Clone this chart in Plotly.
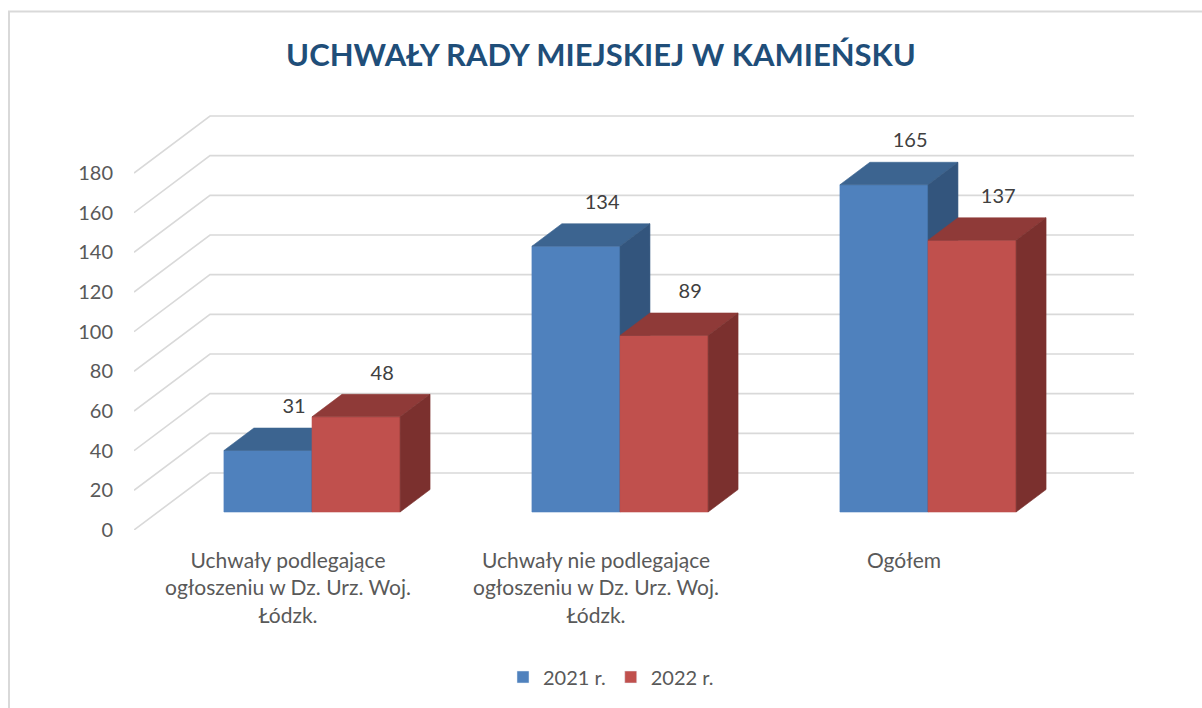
import plotly.graph_objects as go

# ---------------- data ----------------
categories = [
    "Uchwały podlegające<br>ogłoszeniu w Dz. Urz. Woj.<br>Łódzk.",
    "Uchwały nie podlegające<br>ogłoszeniu w Dz. Urz. Woj.<br>Łódzk.",
    "Ogółem",
]
series_names = ["2021 r.", "2022 r."]
values_2021 = [31, 134, 165]
values_2022 = [48, 89, 137]
y_ticks = [0, 20, 40, 60, 80, 100, 120, 140, 160, 180]
title_text = "UCHWAŁY RADY MIEJSKIEJ W KAMIEŃSKU"

# ---------------- styling / geometry ----------------
W, H = 1202, 708
L, R, T, B = 134, 1140, 100, 530          # plot area in pixels
PX_PER_CAT = 308.0
PX_PER_UNIT = 357.0 / 180.0
X0 = -0.5
X1 = X0 + (R - L) / PX_PER_CAT
Y1 = (B - T) / PX_PER_UNIT
DX = 76.0 / PX_PER_CAT                      # depth of the 3D box (x units)
DY = 57.0 / PX_PER_UNIT                     # depth of the 3D box (value units)
D_FRONT, D_BACK = 0.316, 0.71               # bar depth slice
BAR_W = 0.286

front_cols = ["#4F81BD", "#C0504D"]
top_cols = ["#3C6490", "#8F3A38"]
side_cols = ["#33557D", "#7B302E"]
grid_col = "#D9D9D9"
txt_col = "#595959"
FONT = "Lato"


def P(x, v, d):
    return x + d * DX, v + d * DY


fig = go.Figure()

# ---- back wall gridlines & left-wall diagonals ----
gx, gy = [], []
for v in y_ticks:
    a = P(X0, v, 0)
    b = P(X0, v, 1)
    c = P(X0 + len(categories), v, 1)
    gx += [a[0], b[0], c[0], None]
    gy += [a[1], b[1], c[1], None]
fig.add_trace(go.Scatter(x=gx, y=gy, mode="lines", line=dict(color=grid_col, width=1.6),
                         hoverinfo="skip", showlegend=False))


def poly(pts, color):
    xs = [p[0] for p in pts] + [pts[0][0]]
    ys = [p[1] for p in pts] + [pts[0][1]]
    fig.add_trace(go.Scatter(x=xs, y=ys, mode="lines", fill="toself", fillcolor=color,
                             line=dict(color=color, width=0.6), hoverinfo="skip",
                             showlegend=False))


series_vals = [values_2021, values_2022]
for i in range(len(categories)):
    for s, vals in enumerate(series_vals):
        v = vals[i]
        x0 = i - BAR_W + s * BAR_W
        x1 = x0 + BAR_W
        front = [P(x0, 0, D_FRONT), P(x1, 0, D_FRONT), P(x1, v, D_FRONT), P(x0, v, D_FRONT)]
        top = [P(x0, v, D_FRONT), P(x1, v, D_FRONT), P(x1, v, D_BACK), P(x0, v, D_BACK)]
        side = [P(x1, 0, D_FRONT), P(x1, 0, D_BACK), P(x1, v, D_BACK), P(x1, v, D_FRONT)]
        poly(front, front_cols[s])
        poly(top, top_cols[s])
        poly(side, side_cols[s])

# ---- data labels ----
for s, vals in enumerate(series_vals):
    lx, ly = [], []
    for i, v in enumerate(vals):
        cx = i - BAR_W / 2 + s * BAR_W
        p = P(cx, v, 0.66)
        lx.append(p[0])
        ly.append(v + D_BACK * DY + 10)
    fig.add_trace(go.Scatter(x=lx, y=ly, mode="text", text=[str(v) for v in vals],
                             textposition="middle center",
                             textfont=dict(family=FONT, size=20, color="#404040"),
                             hoverinfo="skip", showlegend=False))

# ---- legend entries ----
for s, name in enumerate(series_names):
    fig.add_trace(go.Bar(x=[None], y=[None], name=name, marker=dict(color=front_cols[s])))

# border of the chart area
bx0 = (9 - L) / (R - L)
by0 = (B - 11.5) / (B - T)
fig.add_shape(type="rect", xref="paper", yref="paper",
              x0=bx0, x1=(W + 10 - L) / (R - L), y0=(B - (H + 10)) / (B - T), y1=by0,
              line=dict(color=grid_col, width=2), fillcolor="rgba(0,0,0,0)", layer="below")

fig.update_layout(
    width=W, height=H,
    margin=dict(l=L, r=W - R, t=T, b=H - B, autoexpand=False),
    paper_bgcolor="white", plot_bgcolor="white",
    title=dict(text=title_text, x=0.5, xanchor="center", y=1 - 55 / H, yanchor="middle",
               font=dict(family=FONT, size=31, color="#1F4E79", weight="bold")),
    xaxis=dict(range=[X0, X1], tickmode="array", tickvals=[0, 1, 2], ticktext=categories,
               showgrid=False, zeroline=False, showline=False, ticks="",
               tickfont=dict(family=FONT, size=21, color=txt_col), ticklabelstandoff=16,
               fixedrange=True),
    yaxis=dict(range=[0, Y1], tickmode="array", tickvals=y_ticks,
               ticktext=[str(t) for t in y_ticks],
               showgrid=False, zeroline=False, showline=False, ticks="",
               tickfont=dict(family=FONT, size=20, color=txt_col), ticklabelstandoff=20,
               fixedrange=True),
    legend=dict(orientation="h", x=(611 - L) / (R - L), xanchor="center",
                y=(B - 677) / (B - T), yanchor="middle",
                font=dict(family=FONT, size=20, color=txt_col),
                itemwidth=30, tracegroupgap=0),
    barmode="overlay",
    showlegend=True,
)

fig.write_html("out.html", config={"displayModeBar": False},
               post_script="document.body.style.margin='0';")
